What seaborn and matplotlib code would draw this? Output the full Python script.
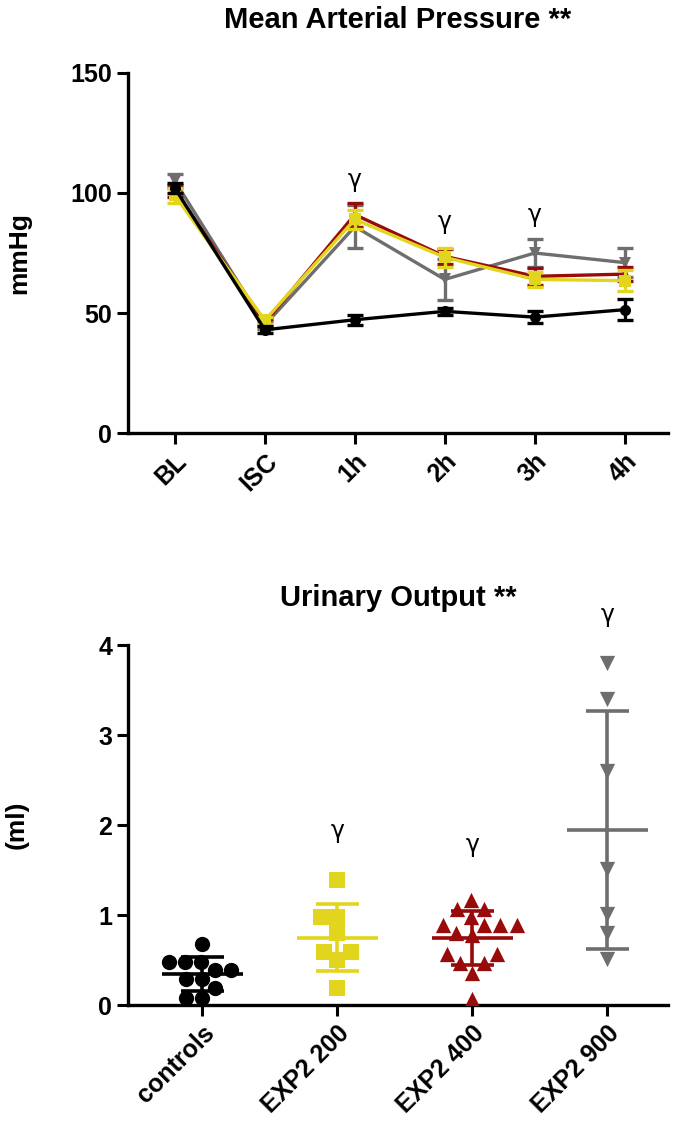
import numpy as np
import pandas as pd
import seaborn as sns
import matplotlib.pyplot as plt

# --- top panel: mean arterial pressure (mean +/- SEM) ---
timepoints = ["BL", "ISC", "1h", "2h", "3h", "4h"]
map_controls = [102, 43, 47.2, 50.7, 48.3, 51.4]
map_controls_err = [2, 1.5, 2, 1.5, 2.5, 4.5]
map_exp200 = [99, 47, 89, 73.2, 64, 63.5]
map_exp200_err = [3, 1.5, 4, 4, 3, 4.5]
map_exp400 = [101, 46, 91, 73.6, 65.3, 66.2]
map_exp400_err = [2.5, 1.5, 5, 3, 3.5, 3]
map_exp900 = [105, 45, 86, 64, 75, 71]
map_exp900_err = [3, 1.5, 9, 8.5, 6, 6]
map_gamma_at = ["1h", "2h", "3h"]
map_gamma_y = [105.5, 88, 91]

# --- bottom panel: urinary output (individual values) ---
groups = ["controls", "EXP2 200", "EXP2 400", "EXP2 900"]
uo_controls = [0.685, 0.48, 0.48, 0.48, 0.39, 0.39, 0.29, 0.29, 0.19, 0.08, 0.08]
uo_exp200 = [1.39, 0.98, 0.98, 0.80, 0.59, 0.59, 0.50, 0.19]
uo_exp400 = [1.17, 1.07, 1.07, 0.98, 0.89, 0.89, 0.89, 0.89, 0.80, 0.78,
             0.57, 0.57, 0.47, 0.47, 0.36, 0.07]
uo_exp900 = [3.80, 3.40, 2.60, 1.51, 1.01, 0.80, 0.51]
uo_gamma_at = ["EXP2 200", "EXP2 400", "EXP2 900"]
uo_gamma_y = [1.94, 1.78, 4.33]

colors = {"controls": "#000000", "EXP2 200": "#E2D51E",
          "EXP2 400": "#990A0A", "EXP2 900": "#6E6E6E"}
markers = {"controls": "o", "EXP2 200": "s", "EXP2 400": "^", "EXP2 900": "v"}

sns.set_style("ticks")
plt.rcParams["font.family"] = ["Liberation Sans", "DejaVu Sans"]
plt.rcParams["font.weight"] = "bold"
for key in ("text.color", "axes.labelcolor", "xtick.color", "ytick.color",
            "axes.edgecolor"):
    plt.rcParams[key] = "black"

fig = plt.figure(figsize=(6.85, 11.22), dpi=100)
ax1 = fig.add_axes([0.187, 0.614, 0.788, 0.321])
ax2 = fig.add_axes([0.187, 0.104, 0.788, 0.321])

map_df = pd.DataFrame({
    "time": timepoints * 4,
    "mmHg": map_exp900 + map_exp400 + map_exp200 + map_controls,
    "err": map_exp900_err + map_exp400_err + map_exp200_err + map_controls_err,
    "group": (["EXP2 900"] * 6 + ["EXP2 400"] * 6 + ["EXP2 200"] * 6
              + ["controls"] * 6),
})

for g in ["EXP2 900", "EXP2 400", "EXP2 200", "controls"]:
    sub = map_df[map_df["group"] == g]
    sns.lineplot(data=sub, x="time", y="mmHg", color=colors[g], marker=markers[g],
                 markersize=8, markeredgewidth=0, linewidth=2.4, ax=ax1,
                 legend=False, sort=False)
    ax1.errorbar(sub["time"], sub["mmHg"], yerr=sub["err"], fmt="none",
                 ecolor=colors[g], elinewidth=2.4, capsize=6, capthick=2.4)

for t, y in zip(map_gamma_at, map_gamma_y):
    ax1.text(timepoints.index(t), y, "γ", ha="center", va="center",
             fontsize=17, fontweight="normal", family="DejaVu Sans")

ax1.set_ylim(0, 150)
ax1.set_yticks([0, 50, 100, 150])
ax1.set_xlim(-0.52, 5.48)
ax1.set_xlabel("")
ax1.set_ylabel("mmHg", fontsize=19, fontweight="bold", labelpad=28)
ax1.set_title("Mean Arterial Pressure **", fontsize=21, fontweight="bold", pad=32)

# bottom panel
uo_df = pd.DataFrame({
    "group": (["controls"] * len(uo_controls) + ["EXP2 200"] * len(uo_exp200)
              + ["EXP2 400"] * len(uo_exp400) + ["EXP2 900"] * len(uo_exp900)),
    "ml": uo_controls + uo_exp200 + uo_exp400 + uo_exp900,
})

for g in groups:
    sub = uo_df[uo_df["group"] == g]
    sns.swarmplot(data=sub, x="group", y="ml", order=groups, color=colors[g],
                  marker=markers[g], size=11, linewidth=0, ax=ax2)

stats = uo_df.groupby("group")["ml"].agg(["mean", "std"]).reindex(groups)
for i, g in enumerate(groups):
    m, s = stats.loc[g, "mean"], stats.loc[g, "std"]
    c = colors[g]
    ax2.hlines(m, i - 0.3, i + 0.3, color=c, linewidth=2.6, zorder=5)
    ax2.hlines([m - s, m + s], i - 0.16, i + 0.16, color=c, linewidth=2.6, zorder=5)
    ax2.vlines(i, m - s, m + s, color=c, linewidth=2.6, zorder=5)

for g, y in zip(uo_gamma_at, uo_gamma_y):
    ax2.text(groups.index(g), y, "γ", ha="center", va="center", fontsize=17,
             fontweight="normal", family="DejaVu Sans", clip_on=False)

ax2.set_ylim(0, 4)
ax2.set_yticks([0, 1, 2, 3, 4])
ax2.set_xlim(-0.55, 3.45)
ax2.set_xlabel("")
ax2.set_ylabel("(ml)", fontsize=19, fontweight="bold", labelpad=50)
ax2.set_title("Urinary Output **", fontsize=21, fontweight="bold", pad=28)

for ax in (ax1, ax2):
    sns.despine(ax=ax)
    for sp in ("left", "bottom"):
        ax.spines[sp].set_linewidth(2.4)
    ax.tick_params(axis="both", width=2.2, length=8, labelsize=18)
    for lab in ax.get_xticklabels():
        lab.set_rotation(45)
        lab.set_ha("right")
        lab.set_rotation_mode("anchor")
        lab.set_fontweight("bold")
    for lab in ax.get_yticklabels():
        lab.set_fontweight("bold")

fig.savefig("out.png", dpi=100)
